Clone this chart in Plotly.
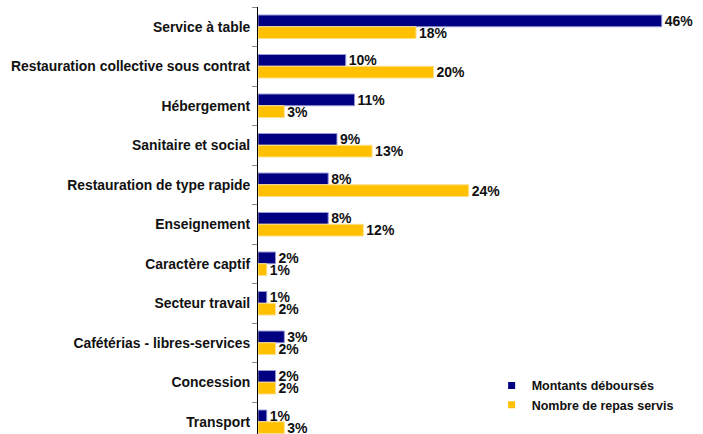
import plotly.graph_objects as go

categories = [
    "Service à table",
    "Restauration collective sous contrat",
    "Hébergement",
    "Sanitaire et social",
    "Restauration de type rapide",
    "Enseignement",
    "Caractère captif",
    "Secteur travail",
    "Cafétérias - libres-services",
    "Concession",
    "Transport",
]
montants = [46, 10, 11, 9, 8, 8, 2, 1, 3, 2, 1]
repas = [18, 20, 3, 13, 24, 12, 1, 2, 2, 2, 3]
series_names = ["Montants déboursés", "Nombre de repas servis"]

FONT = "Arial, 'Liberation Sans', sans-serif"
NAVY = "#000080"
GOLD = "#FFC000"

fig = go.Figure()
for vals, name, color, edge in [
    (montants, series_names[0], NAVY, "#9a9ad8"),
    (repas, series_names[1], GOLD, "#ffe08a"),
]:
    fig.add_trace(go.Bar(
        y=categories, x=vals, orientation="h", name=name, showlegend=False,
        marker=dict(color=color, line=dict(color=edge, width=1)),
        text=[f"{v}%" for v in vals], textposition="outside",
        textfont=dict(family=FONT, size=14, color="#111111", weight="bold"),
        cliponaxis=False, constraintext="none",
    ))

# Legend entries with small square swatches
for name, color in zip(series_names, [NAVY, GOLD]):
    fig.add_trace(go.Scatter(
        x=[None], y=[None], mode="markers", name=name,
        marker=dict(symbol="square", size=7, color=color),
        showlegend=True,
    ))

fig.update_layout(
    width=703, height=434,
    margin=dict(l=258, r=0, t=7, b=0),
    paper_bgcolor="white", plot_bgcolor="white",
    barmode="group", bargap=0.405, bargroupgap=0,
    font=dict(family=FONT, size=14, color="#111111"),
    showlegend=True,
    legend=dict(
        x=0.525, y=0.148, xanchor="left", yanchor="top",
        bgcolor="rgba(0,0,0,0)", borderwidth=0,
        font=dict(family=FONT, size=12.5, color="#111111", weight="bold"),
        itemwidth=30, tracegroupgap=0,
    ),
    xaxis=dict(range=[0, 50.7], visible=False, showgrid=False, zeroline=False),
    yaxis=dict(
        range=[10.31, -0.5], type="category",
        showline=True, linecolor="#000000", linewidth=1,
        ticks="outside", ticklen=5, tickcolor="#888888", tickson="boundaries",
        ticklabelstandoff=4,
        tickfont=dict(family=FONT, size=13.9, color="#111111", weight="bold"),
        showgrid=False, zeroline=False,
    ),
)

fig.write_html("out.html")
